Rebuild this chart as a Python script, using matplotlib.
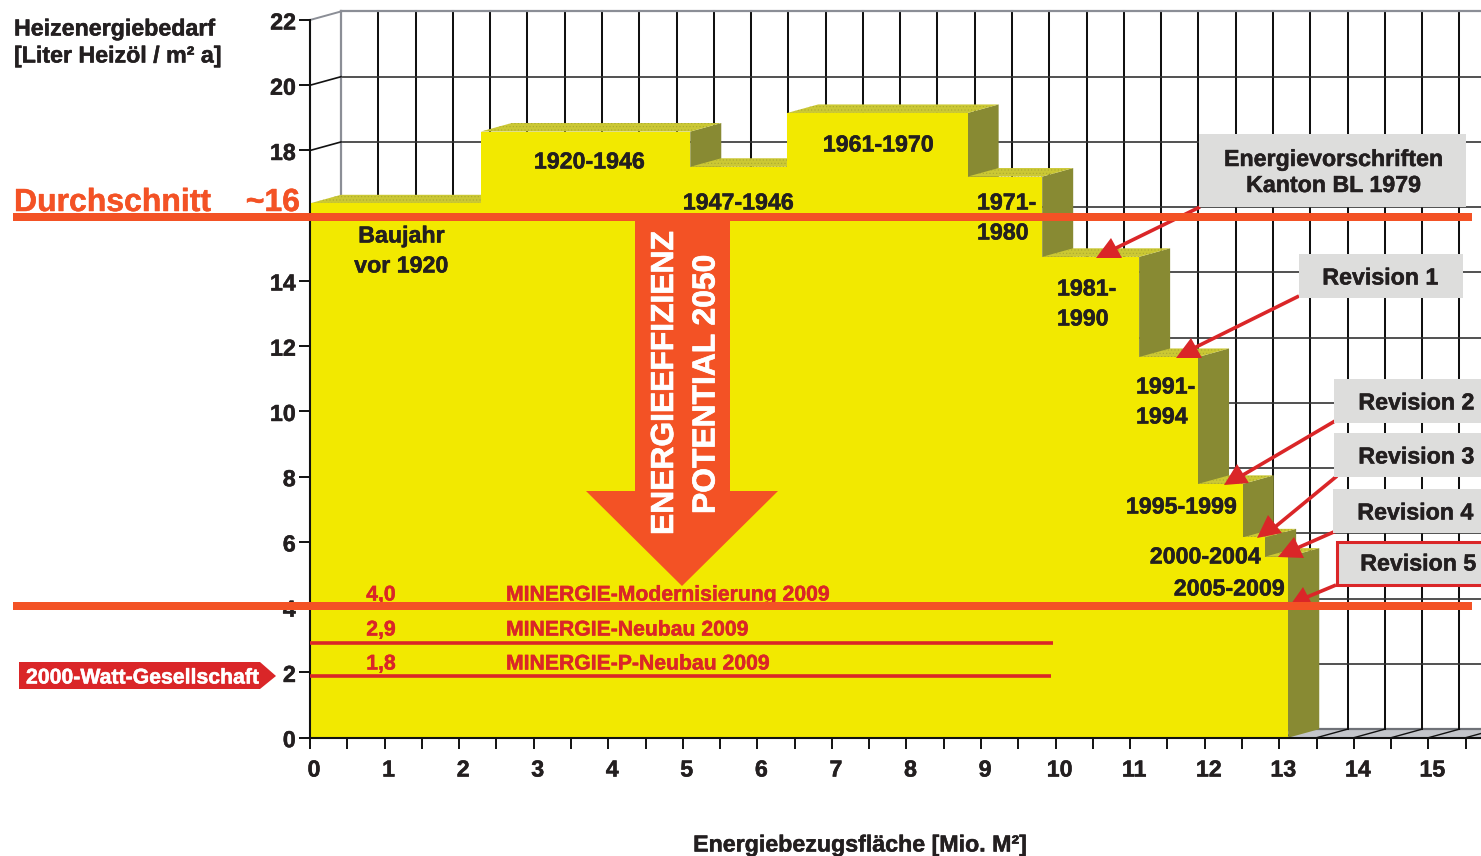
import matplotlib
matplotlib.use('Agg')
import matplotlib.pyplot as plt
import matplotlib.patheffects as pe
from matplotlib.patches import Polygon, Rectangle
from matplotlib.transforms import Affine2D, ScaledTranslation

W, H = 1481, 856

# building periods: front edges in Mio. m2, demand in litres
step_edges = [0, 2.29, 5.10, 6.40, 8.82, 9.82, 11.12, 11.91, 12.51, 12.81, 13.12]
step_heights = [16.38, 18.58, 17.50, 19.15, 17.20, 14.74, 11.67, 7.78, 6.14, 5.55]

x_major = list(range(0, 16))
x_grid = [i / 2 for i in range(0, 32)]
y_ticks = [0, 2, 4, 6, 8, 10, 12, 14, 18, 20, 22]
y_grid = [2, 4, 6, 8, 10, 12, 14, 16, 18, 20]

average_level = 15.96
target_level = 4.03
minergie_neubau = 2.90
minergie_p = 1.89
minergie_end = [9.96, 9.94]

# 3d depth of the chart, in data units
DX, DY = 0.416, 0.262

YELLOW = '#f2e900'
OLIVE = '#888a33'
TOPFACE = '#cbc834'
ORANGE = '#f35225'
RED = '#da2628'
BOXGREY = '#dddddc'
DARK = '#231f20'
WALL = '#8b8e96'

plt.rcParams['font.family'] = ['Liberation Sans', 'DejaVu Sans']
plt.rcParams['font.weight'] = 'bold'
plt.rcParams['hatch.linewidth'] = 0.4

fig = plt.figure(figsize=(W / 100, H / 100), dpi=100)
ax = fig.add_axes([310 / W, (H - 737.7) / H, (W - 310) / W, 717.7 / H])
ax.set_xlim(0, (W - 310) / 74.56)
ax.set_ylim(0, 22)

# pixel coordinates of the reference, for callouts and labels
px = Affine2D().scale(1, -1).translate(0, H)


def heavy(color, width=0.35):
    return [pe.withStroke(linewidth=width, foreground=color)]


def label(x, y, s, size=16.7, color=DARK, ha='left', z=4, **kw):
    ax.text(x, y + 2, s, transform=px, fontsize=size, color=color, ha=ha,
            va='center', zorder=z, clip_on=False, path_effects=heavy(color), **kw)


# back wall and floor
xmax = ax.get_xlim()[1] + 1
ax.add_patch(Polygon([(0, 0), (xmax, 0), (xmax, DY), (DX, DY)],
                     fc='#c3c5ca', ec='none', zorder=0.5))
ax.plot([DX, xmax], [DY, DY], color='#6f7278', lw=1.6, zorder=0.6)
for x in x_grid[1:]:
    ax.plot([x + DX, x + DX], [DY, 22 + DY], color='#111111', lw=1.45,
            zorder=0.7, clip_on=False)
    ax.plot([x, x + DX], [0, DY], color='#111111', lw=1.0, zorder=0.7)
for y in y_grid:
    ax.plot([DX, xmax], [y + DY, y + DY], color='#333333', lw=1.2, zorder=0.8)
ax.plot([DX, xmax], [22 + DY, 22 + DY], color=WALL, lw=1.6, zorder=0.9, clip_on=False)
ax.plot([DX, DX], [DY, 22 + DY], color=WALL, lw=1.6, zorder=0.9, clip_on=False)
for y in [18, 20]:
    ax.plot([0, DX], [y, y + DY], color='#111111', lw=1.2, zorder=0.9)
ax.plot([0, DX], [22, 22 + DY], color=WALL, lw=1.4, zorder=0.9, clip_on=False)

# staircase, left to right so each step hides what is behind it
for i, h in enumerate(step_heights):
    x0, x1 = step_edges[i], step_edges[i + 1]
    z = 1 + i * 0.01
    ax.add_patch(Polygon([(x1, 0), (x1 + DX, DY), (x1 + DX, h + DY), (x1, h)],
                         fc=OLIVE, ec='none', zorder=z))
    ax.add_patch(Polygon([(x0, h), (x1, h), (x1 + DX, h + DY), (x0 + DX, h + DY)],
                         fc=TOPFACE, ec='#a9a832', hatch='.....', lw=0, zorder=z))
    ax.bar(x0, h, width=x1 - x0, align='edge', color=YELLOW, lw=0, zorder=z)

# axes
for side in ['top', 'right']:
    ax.spines[side].set_visible(False)
for side in ['left', 'bottom']:
    ax.spines[side].set_linewidth(1.5)
    ax.spines[side].set_color('#111111')
ax.set_axisbelow(False)
ax.set_xticks(x_major)
ax.set_xticks([x + 0.5 for x in x_major], minor=True)
ax.set_yticks(y_ticks)
ax.tick_params(axis='both', which='both', length=7.8, width=1.4, color='#111111')
ax.tick_params(axis='x', labelsize=16.7, pad=7.2, labelcolor=DARK)
ax.tick_params(axis='y', labelsize=16.7, pad=2.5, labelcolor=DARK)
xshift = ScaledTranslation(4 / 100, 0, fig.dpi_scale_trans)
yshift = ScaledTranslation(0, -0.5 / 100, fig.dpi_scale_trans)
for t in ax.get_xticklabels():
    t.set_transform(t.get_transform() + xshift)
    t.set_path_effects(heavy(DARK))
for t in ax.get_yticklabels():
    t.set_transform(t.get_transform() + yshift)
    t.set_path_effects(heavy(DARK))

# reduction arrow
ax.add_patch(Polygon([(635, 217), (730, 217), (730, 491), (778, 491), (682, 586),
                      (586, 491), (635, 491)], transform=px, fc=ORANGE, ec='none',
                     zorder=3))
ax.text(665, 535, 'ENERGIEEFFIZIENZ', transform=px, rotation=90, color='white',
        fontsize=22.9, ha='center', va='bottom', zorder=4, path_effects=heavy('white', 0.5))
ax.text(706.5, 514, 'POTENTIAL 2050', transform=px, rotation=90, color='white',
        fontsize=22.9, ha='center', va='bottom', zorder=4, path_effects=heavy('white', 0.5))

# level lines
for level in [average_level, target_level]:
    ypx = 737.7 - level * 32.62
    ax.add_patch(Rectangle((13, ypx - 4), 1459, 8, transform=px, fc=ORANGE,
                           ec='none', zorder=5, clip_on=False))
ax.plot([0, minergie_end[0]], [minergie_neubau] * 2, color=RED, lw=2.6, zorder=3,
        solid_capstyle='butt')
ax.plot([0, minergie_end[1]], [minergie_p] * 2, color=RED, lw=2.6, zorder=3,
        solid_capstyle='butt')

# texts
label(14, 27, 'Heizenergiebedarf')
label(14, 54, '[Liter Heizöl / m² a]')
label(14, 201, 'Durchschnitt', size=23, color=ORANGE)
label(300, 201, '~16', size=23, color=ORANGE, ha='right')
label(859, 843, 'Energiebezugsfläche [Mio. M²]', ha='center')

label(401, 234, 'Baujahr', ha='center')
label(401, 264, 'vor 1920', ha='center')
label(589, 160, '1920-1946', ha='center')
label(738, 201, '1947-1946', ha='center')
label(878, 143, '1961-1970', ha='center')
label(977, 201, '1971-')
label(977, 231, '1980')
label(1057, 287, '1981-')
label(1057, 317, '1990')
label(1136, 385, '1991-')
label(1136, 415, '1994')
label(1181, 505, '1995-1999', ha='center')
label(1205, 555, '2000-2004', ha='center')
label(1229, 587, '2005-2009', ha='center')

label(381, 593, '4,0', size=15.25, color=RED, ha='center')
label(506, 593, 'MINERGIE-Modernisierung 2009', size=15.25, color=RED)
label(381, 628, '2,9', size=15.25, color=RED, ha='center')
label(506, 628, 'MINERGIE-Neubau 2009', size=15.25, color=RED)
label(381, 662, '1,8', size=15.25, color=RED, ha='center')
label(506, 662, 'MINERGIE-P-Neubau 2009', size=15.25, color=RED)

ax.add_patch(Polygon([(19, 662), (260, 662), (276, 676), (260, 689), (19, 689)],
                     transform=px, fc=RED, ec='none', zorder=3, clip_on=False))
label(26, 676, '2000-Watt-Gesellschaft', size=15.3, color='white')

# callouts: box, text, leader line, arrow head
callouts = [
    ((1199, 134, 267, 73), ['Energievorschriften', 'Kanton BL 1979'], 1333,
     [(1200, 207), (1112, 250)], [(1096, 258), (1122, 258), (1111, 238)]),
    ((1299, 254, 164, 44), ['Revision 1'], 1380,
     [(1299, 296), (1190, 350)], [(1176, 358), (1202, 358), (1191, 338)]),
    ((1334, 379, 147, 44), ['Revision 2'], 1416,
     [(1335, 421), (1243, 475)], [(1224, 485), (1249, 483), (1237, 464)]),
    ((1334, 433, 147, 44), ['Revision 3'], 1416,
     [(1337, 476), (1275, 527)], [(1257, 538), (1282, 533), (1268, 515)]),
    ((1333, 489, 148, 44), ['Revision 4'], 1415,
     [(1336, 531), (1295, 549)], [(1278, 557), (1304, 558), (1294, 537)]),
]
for (bx, by, bw, bh), lines, cx, leader, head in callouts:
    ax.plot(*zip(*leader), transform=px, color=RED, lw=2.6, zorder=3.2,
            solid_capstyle='butt', clip_on=False)
    ax.add_patch(Polygon(head, transform=px, fc=RED, ec='none', zorder=3.3,
                         clip_on=False))
    ax.add_patch(Rectangle((bx, by), bw, bh, transform=px, fc=BOXGREY, ec='none',
                           zorder=3.4, clip_on=False))
    cy = by + bh / 2
    for j, s in enumerate(lines):
        label(cx, cy + (j - (len(lines) - 1) / 2) * 26, s, ha='center')

# revision 5 sits on the target line and has a red frame
ax.plot([1336, 1300], [585, 600], transform=px, color=RED, lw=2.6, zorder=3.2,
        solid_capstyle='butt', clip_on=False)
ax.add_patch(Polygon([(1291, 604), (1312, 604), (1303, 587)], transform=px, fc=RED,
                     ec='none', zorder=3.3, clip_on=False))
ax.add_patch(Rectangle((1337, 542), 150, 43, transform=px, fc=BOXGREY, ec=RED, lw=2.2,
                       zorder=3.4, clip_on=False))
label(1418, 562, 'Revision 5', ha='center')

fig.savefig('out.png', dpi=100)
